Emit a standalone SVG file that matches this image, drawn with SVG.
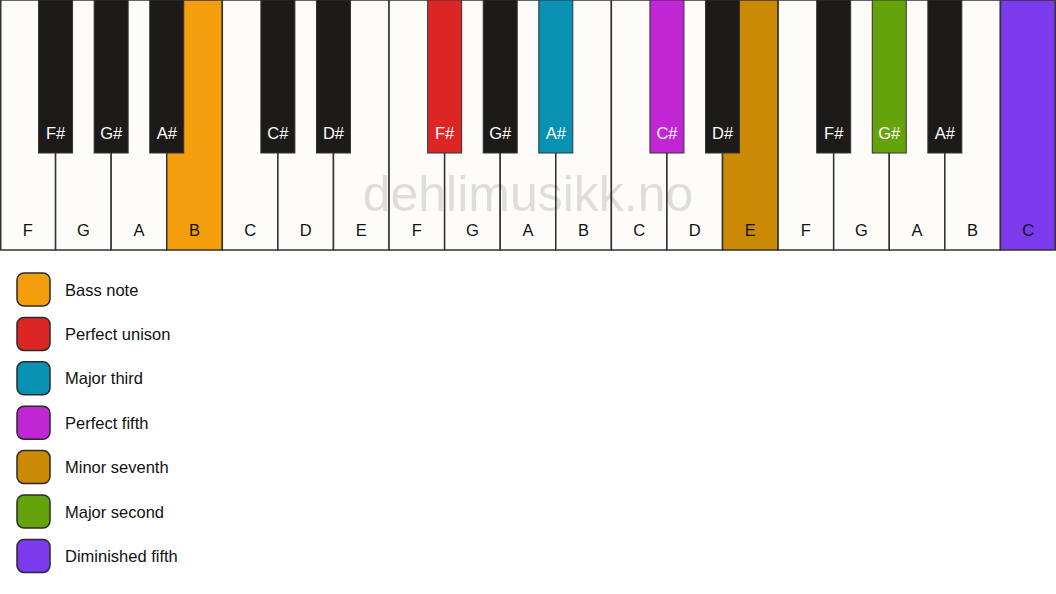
<svg xmlns="http://www.w3.org/2000/svg" width="1056" height="594" viewBox="0 0 1056 594">
<style>
.w{fill:#fdfcf8;stroke:#333;stroke-width:1.5}
.b{fill:#1c1b19;stroke:#333;stroke-width:1}
.wl{font-family:"Liberation Sans",Arial,sans-serif;font-size:16.5px;fill:#111;text-anchor:middle}
.bl{font-family:"Liberation Sans",Arial,sans-serif;font-size:16.5px;fill:#fff;text-anchor:middle}
.sw{stroke:#2a2a2a;stroke-width:1.5}
.lt{font-family:"Liberation Sans",Arial,sans-serif;font-size:16.5px;fill:#111}
.wm{font-family:"Liberation Sans",Arial,sans-serif;font-size:50px;fill:#000;fill-opacity:0.12;text-anchor:middle}
</style>
<rect width="1056" height="594" fill="#fff"/>
<g id="white-keys">
<g id="wk0"><rect class="w" x="0.75" y="0" width="54.83" height="250"/><text class="wl" x="27.79" y="236">F</text></g>
<g id="wk1"><rect class="w" x="55.58" y="0" width="55.58" height="250"/><text class="wl" x="83.37" y="236">G</text></g>
<g id="wk2"><rect class="w" x="111.16" y="0" width="55.58" height="250"/><text class="wl" x="138.95" y="236">A</text></g>
<g id="wk3"><rect class="w" x="166.74" y="0" width="55.58" height="250" style="fill:#f59e0b"/><text class="wl" x="194.53" y="236">B</text></g>
<g id="wk4"><rect class="w" x="222.32" y="0" width="55.58" height="250"/><text class="wl" x="250.11" y="236">C</text></g>
<g id="wk5"><rect class="w" x="277.89" y="0" width="55.58" height="250"/><text class="wl" x="305.68" y="236">D</text></g>
<g id="wk6"><rect class="w" x="333.47" y="0" width="55.58" height="250"/><text class="wl" x="361.26" y="236">E</text></g>
<g id="wk7"><rect class="w" x="389.05" y="0" width="55.58" height="250"/><text class="wl" x="416.84" y="236">F</text></g>
<g id="wk8"><rect class="w" x="444.63" y="0" width="55.58" height="250"/><text class="wl" x="472.42" y="236">G</text></g>
<g id="wk9"><rect class="w" x="500.21" y="0" width="55.58" height="250"/><text class="wl" x="528" y="236">A</text></g>
<g id="wk10"><rect class="w" x="555.79" y="0" width="55.58" height="250"/><text class="wl" x="583.58" y="236">B</text></g>
<g id="wk11"><rect class="w" x="611.37" y="0" width="55.58" height="250"/><text class="wl" x="639.16" y="236">C</text></g>
<g id="wk12"><rect class="w" x="666.95" y="0" width="55.58" height="250"/><text class="wl" x="694.74" y="236">D</text></g>
<g id="wk13"><rect class="w" x="722.53" y="0" width="55.58" height="250" style="fill:#ca8a04"/><text class="wl" x="750.32" y="236">E</text></g>
<g id="wk14"><rect class="w" x="778.11" y="0" width="55.58" height="250"/><text class="wl" x="805.89" y="236">F</text></g>
<g id="wk15"><rect class="w" x="833.68" y="0" width="55.58" height="250"/><text class="wl" x="861.47" y="236">G</text></g>
<g id="wk16"><rect class="w" x="889.26" y="0" width="55.58" height="250"/><text class="wl" x="917.05" y="236">A</text></g>
<g id="wk17"><rect class="w" x="944.84" y="0" width="55.58" height="250"/><text class="wl" x="972.63" y="236">B</text></g>
<g id="wk18"><rect class="w" x="1000.42" y="0" width="54.83" height="250" style="fill:#7c3aed"/><text class="wl" x="1028.21" y="236">C</text></g>
</g>
<g id="black-keys">
<g id="bk1"><rect class="b" x="38.58" y="0" width="34" height="153"/><text class="bl" x="55.58" y="139">F#</text></g>
<g id="bk2"><rect class="b" x="94.16" y="0" width="34" height="153"/><text class="bl" x="111.16" y="139">G#</text></g>
<g id="bk3"><rect class="b" x="149.74" y="0" width="34" height="153"/><text class="bl" x="166.74" y="139">A#</text></g>
<g id="bk5"><rect class="b" x="260.89" y="0" width="34" height="153"/><text class="bl" x="277.89" y="139">C#</text></g>
<g id="bk6"><rect class="b" x="316.47" y="0" width="34" height="153"/><text class="bl" x="333.47" y="139">D#</text></g>
<g id="bk8"><rect class="b" x="427.63" y="0" width="34" height="153" style="fill:#dc2626"/><text class="bl" x="444.63" y="139">F#</text></g>
<g id="bk9"><rect class="b" x="483.21" y="0" width="34" height="153"/><text class="bl" x="500.21" y="139">G#</text></g>
<g id="bk10"><rect class="b" x="538.79" y="0" width="34" height="153" style="fill:#0891b2"/><text class="bl" x="555.79" y="139">A#</text></g>
<g id="bk12"><rect class="b" x="649.95" y="0" width="34" height="153" style="fill:#c026d3"/><text class="bl" x="666.95" y="139">C#</text></g>
<g id="bk13"><rect class="b" x="705.53" y="0" width="34" height="153"/><text class="bl" x="722.53" y="139">D#</text></g>
<g id="bk15"><rect class="b" x="816.68" y="0" width="34" height="153"/><text class="bl" x="833.68" y="139">F#</text></g>
<g id="bk16"><rect class="b" x="872.26" y="0" width="34" height="153" style="fill:#65a30d"/><text class="bl" x="889.26" y="139">G#</text></g>
<g id="bk17"><rect class="b" x="927.84" y="0" width="34" height="153"/><text class="bl" x="944.84" y="139">A#</text></g>
</g>
<text id="watermark" class="wm" x="528" y="211">dehlimusikk.no</text>
<g id="legend">
<g id="lg1"><rect class="sw" x="17" y="273" width="33" height="33" rx="7" fill="#f59e0b"/><text class="lt" x="65" y="295.5">Bass note</text></g>
<g id="lg2"><rect class="sw" x="17" y="317.4" width="33" height="33" rx="7" fill="#dc2626"/><text class="lt" x="65" y="339.9">Perfect unison</text></g>
<g id="lg3"><rect class="sw" x="17" y="361.8" width="33" height="33" rx="7" fill="#0891b2"/><text class="lt" x="65" y="384.3">Major third</text></g>
<g id="lg4"><rect class="sw" x="17" y="406.2" width="33" height="33" rx="7" fill="#c026d3"/><text class="lt" x="65" y="428.7">Perfect fifth</text></g>
<g id="lg5"><rect class="sw" x="17" y="450.6" width="33" height="33" rx="7" fill="#ca8a04"/><text class="lt" x="65" y="473.1">Minor seventh</text></g>
<g id="lg6"><rect class="sw" x="17" y="495" width="33" height="33" rx="7" fill="#65a30d"/><text class="lt" x="65" y="517.5">Major second</text></g>
<g id="lg7"><rect class="sw" x="17" y="539.4" width="33" height="33" rx="7" fill="#7c3aed"/><text class="lt" x="65" y="561.9">Diminished fifth</text></g>
</g>
</svg>
